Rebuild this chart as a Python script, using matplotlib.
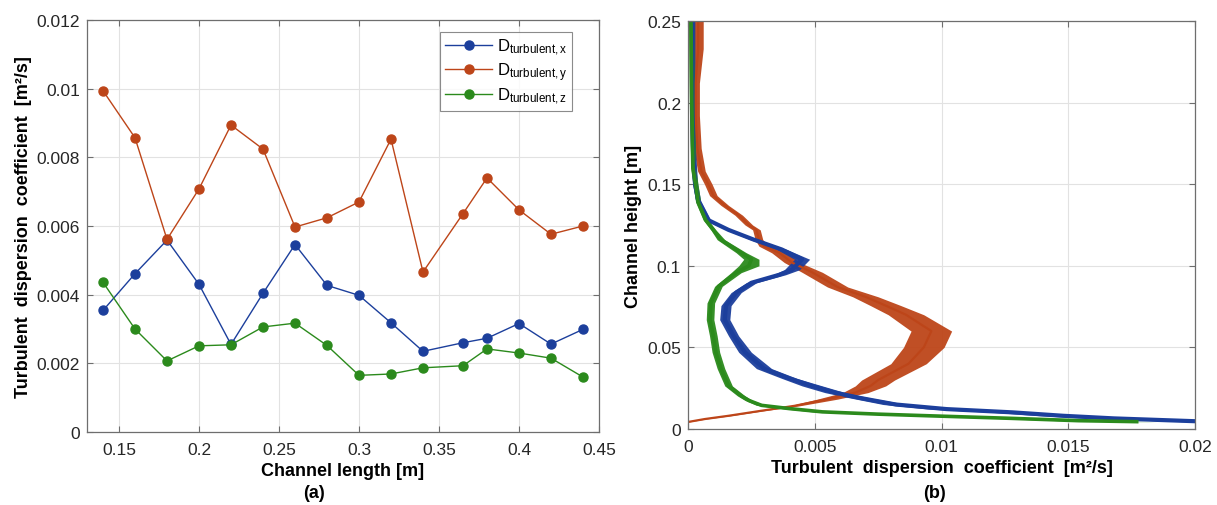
import matplotlib
matplotlib.use("Agg")
import matplotlib.pyplot as plt
import numpy as np

plt.rcParams['font.family'] = ['Liberation Sans', 'DejaVu Sans']
plt.rcParams['mathtext.fontset'] = 'custom'
plt.rcParams['mathtext.rm'] = 'Liberation Sans'
plt.rcParams['mathtext.it'] = 'Liberation Sans:italic'

# ---------------- Panel (a) data ----------------
channel_length = [0.14, 0.16, 0.18, 0.20, 0.22, 0.24, 0.26, 0.28, 0.30, 0.32,
                  0.34, 0.365, 0.38, 0.40, 0.42, 0.44]
d_turb_x = [0.00354, 0.00461, 0.00559, 0.00430, 0.00255, 0.00404, 0.00546, 0.00427,
            0.00398, 0.00318, 0.00235, 0.00260, 0.00273, 0.00316, 0.00256, 0.00299]
d_turb_y = [0.00994, 0.00857, 0.00561, 0.00708, 0.00894, 0.00824, 0.00597, 0.00624,
            0.00670, 0.00853, 0.00466, 0.00636, 0.00740, 0.00647, 0.00576, 0.00600]
d_turb_z = [0.00436, 0.00300, 0.00207, 0.00251, 0.00254, 0.00306, 0.00317, 0.00252,
            0.00165, 0.00169, 0.00187, 0.00193, 0.00242, 0.00230, 0.00215, 0.00160]
legend_labels = [r'D$_{\mathrm{turbulent,x}}$', r'D$_{\mathrm{turbulent,y}}$',
                 r'D$_{\mathrm{turbulent,z}}$']

# ---------------- Panel (b) data (profiles) ----------------
prof_x_h = [0.0045, 0.0065, 0.0081, 0.0102, 0.0122, 0.015, 0.019, 0.0223, 0.0264, 0.031,
            0.037, 0.047, 0.057, 0.067, 0.0756, 0.0836, 0.0896, 0.0945, 0.0976, 0.104,
            0.110, 0.116, 0.122, 0.128, 0.14, 0.15, 0.17, 0.20, 0.25]
prof_x_v = [0.0205, 0.0168, 0.0148, 0.0128, 0.0102, 0.0082, 0.0068, 0.0058, 0.0049, 0.0040,
            0.0030, 0.00225, 0.0018, 0.00145, 0.0015, 0.0019, 0.0025, 0.0036, 0.0041, 0.0045,
            0.0037, 0.0026, 0.0016, 0.0008, 0.0004, 0.00028, 0.0002, 0.00017, 0.00017]
prof_x_spread = [0.0010, 0.0010, 0.0009, 0.0008, 0.0007, 0.0005, 0.0004, 0.0004, 0.0004, 0.0003,
                 0.0003, 0.00025, 0.0002, 0.0002, 0.0002, 0.0002, 0.0002, 0.00025, 0.0003, 0.0003,
                 0.0002, 0.00015, 0.0001, 0.0001, 0.0001, 0.0001, 0.0001, 0.0001, 0.0001]

prof_y_h = [0.0043, 0.0061, 0.0081, 0.0112, 0.0142, 0.0183, 0.0223, 0.0264, 0.030, 0.040,
            0.050, 0.060, 0.070, 0.0756, 0.081, 0.087, 0.096, 0.102, 0.108, 0.112,
            0.116, 0.122, 0.125, 0.131, 0.137, 0.143, 0.150, 0.158, 0.172, 0.192,
            0.212, 0.233, 0.25]
prof_y_v = [0.0, 0.00066, 0.0016, 0.0029, 0.0042, 0.0055, 0.0066, 0.0072, 0.0075, 0.0087,
            0.0093, 0.0096, 0.0086, 0.0078, 0.0070, 0.0059, 0.0049, 0.0041, 0.0036, 0.0030,
            0.0028, 0.0027, 0.0024, 0.0020, 0.00145, 0.0010, 0.0008, 0.00053, 0.00037, 0.0003,
            0.0003, 0.0004, 0.0004]
prof_y_spread = [0.00003, 0.00005, 0.00008, 0.0001, 0.0002, 0.0004, 0.0005, 0.0006, 0.00065, 0.0007,
                 0.0008, 0.0008, 0.0007, 0.0006, 0.0005, 0.0004, 0.0004, 0.0003, 0.0003, 0.0002,
                 0.00015, 0.00015, 0.00015, 0.00015, 0.00015, 0.00015, 0.00015, 0.00015, 0.00015, 0.00015,
                 0.00015, 0.0002, 0.0002]

prof_z_h = [0.0045, 0.0051, 0.0065, 0.0081, 0.0091, 0.0105, 0.0125, 0.0145, 0.0175, 0.0203,
            0.0264, 0.037, 0.047, 0.057, 0.067, 0.0772, 0.0874, 0.0958, 0.100, 0.104,
            0.108, 0.116, 0.122, 0.128, 0.139, 0.16, 0.20, 0.25]
prof_z_v = [0.0177, 0.0154, 0.0128, 0.0095, 0.0075, 0.0053, 0.0040, 0.0029, 0.0024, 0.0021,
            0.0016, 0.0013, 0.0011, 0.0010, 0.00087, 0.0009, 0.0012, 0.0019, 0.0024, 0.0025,
            0.0021, 0.0013, 0.0010, 0.0007, 0.0004, 0.0002, 0.00015, 0.00012]
prof_z_spread = [0.0008, 0.0008, 0.0007, 0.0006, 0.0005, 0.0004, 0.0003, 0.0002, 0.00015, 0.00015,
                 0.00015, 0.00015, 0.00015, 0.00015, 0.00015, 0.00015, 0.00015, 0.0002, 0.0004, 0.0003,
                 0.0002, 0.00015, 0.0001, 0.0001, 0.0001, 0.0001, 0.0001, 0.0001]

c_blue = '#1c3f9c'
c_red = '#bd4519'
c_green = '#2b8a1c'

fig = plt.figure(figsize=(12.17, 5.06), dpi=100)
fig.patch.set_facecolor('white')

ax1 = fig.add_axes([87/1217, 1-433/506, (599-87)/1217, (433-21)/506])
ax2 = fig.add_axes([688/1217, 1-430/506, (1195-688)/1217, (430-22)/506])

def style(ax):
    ax.grid(True, color='#e2e2e2', linewidth=0.8)
    ax.set_axisbelow(True)
    for sp in ax.spines.values():
        sp.set_color('#6e6e6e')
        sp.set_linewidth(0.9)
    ax.tick_params(direction='in', top=True, right=True, length=4, width=0.8,
                   color='#6e6e6e', labelsize=12.5, labelcolor='#262626')
    ax.tick_params(axis='x', pad=7)
    ax.tick_params(axis='y', pad=5)

# ---- Panel (a)
for vals, col, lab in [(d_turb_x, c_blue, legend_labels[0]),
                       (d_turb_y, c_red, legend_labels[1]),
                       (d_turb_z, c_green, legend_labels[2])]:
    ax1.plot(channel_length, vals, '-o', color=col, linewidth=1.0,
             markersize=6.5, label=lab)
ax1.set_xlim(0.13, 0.45)
ax1.set_ylim(0, 0.012)
ax1.set_xticks([0.15, 0.2, 0.25, 0.3, 0.35, 0.4, 0.45])
ax1.set_xticklabels(['0.15', '0.2', '0.25', '0.3', '0.35', '0.4', '0.45'])
ax1.set_yticks([0, 0.002, 0.004, 0.006, 0.008, 0.01, 0.012])
ax1.set_yticklabels(['0', '0.002', '0.004', '0.006', '0.008', '0.01', '0.012'])
style(ax1)
ax1.set_xlabel('Channel length [m]', fontsize=13, fontweight='bold', labelpad=4)
ax1.set_ylabel('Turbulent  dispersion  coefficient  [m²/s]', fontsize=13,
               fontweight='bold', labelpad=3)
leg = ax1.legend(loc='upper right', bbox_to_anchor=(0.948, 0.972), fontsize=12,
                 frameon=True, fancybox=False, handlelength=2.8, handletextpad=0.3,
                 borderpad=0.3, labelspacing=0.2, borderaxespad=0)
leg.get_frame().set_edgecolor('#6e6e6e')
leg.get_frame().set_linewidth(0.8)

# ---- Panel (b)
for h, v, s, col, lw in [(prof_y_h, prof_y_v, prof_y_spread, c_red, 1.6),
                         (prof_x_h, prof_x_v, prof_x_spread, c_blue, 3.0),
                         (prof_z_h, prof_z_v, prof_z_spread, c_green, 2.6)]:
    h = np.asarray(h); v = np.asarray(v); s = np.asarray(s)
    ax2.fill_betweenx(h, v - s, v + s, color=col, linewidth=0, alpha=0.95)
    ax2.plot(v, h, color=col, linewidth=lw, solid_joinstyle='round')
ax2.set_xlim(0, 0.02)
ax2.set_ylim(0, 0.25)
ax2.set_xticks([0, 0.005, 0.01, 0.015, 0.02])
ax2.set_xticklabels(['0', '0.005', '0.01', '0.015', '0.02'])
ax2.set_yticks([0, 0.05, 0.1, 0.15, 0.2, 0.25])
ax2.set_yticklabels(['0', '0.05', '0.1', '0.15', '0.2', '0.25'])
style(ax2)
ax2.set_xlabel('Turbulent  dispersion  coefficient  [m²/s]', fontsize=13,
               fontweight='bold', labelpad=4)
ax2.set_ylabel('Channel height [m]', fontsize=13, fontweight='bold', labelpad=4)

fig.text(314/1217, 1-494/506, '(a)', fontsize=13, fontweight='bold', ha='center', va='center')
fig.text(935/1217, 1-494/506, '(b)', fontsize=13, fontweight='bold', ha='center', va='center')

fig.savefig('out.png', dpi=100)
